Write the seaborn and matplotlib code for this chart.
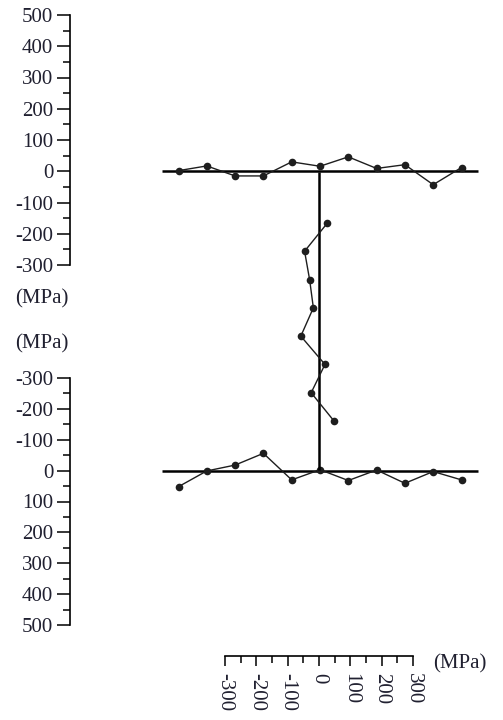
import numpy as np
import matplotlib
matplotlib.use("Agg")
import matplotlib.pyplot as plt
from matplotlib.ticker import MultipleLocator
import seaborn as sns

# ---- data ----
flange_pos = [-150, -120, -90, -60, -30, 0, 30, 60, 90, 120, 150]   # mm along flange
top_stress = [2, 17, -15, -15, 30, 16, 46, 9, 21, -43, 12]          # MPa
bot_stress = [52, 1, -18, -56, 30, -3, 32, -2, 41, 3, 30]           # MPa
web_pos = [54, 84, 114, 144, 174, 204, 234, 264]                    # mm from top flange
web_stress = [27, -46, -30, -18, -58, 19, -25, 48]                  # MPa
stress_ticks = [-300, -200, -100, 0, 100, 200, 300, 400, 500]
web_ticks = [-300, -200, -100, 0, 100, 200, 300]

FLANGE_HALF = 167   # mm
WEB_H = 316         # mm

# ---- style ----
sns.set_style("white")
plt.rcParams['font.family'] = ['Liberation Serif', 'DejaVu Serif']
plt.rcParams['axes.unicode_minus'] = False
TXT = '#202030'
FS = 15

W, H = 503, 720
fig = plt.figure(figsize=(W / 100, H / 100), dpi=100)

def rect(x0, y0, x1, y1):
    return [x0 / W, 1 - y1 / H, (x1 - x0) / W, (y1 - y0) / H]

PX_PER_MM = 28.3 / 30
CX = 320

ax_top = fig.add_axes(rect(70, 15, 480, 265))
ax_bot = fig.add_axes(rect(70, 378, 480, 625))
ax_web = fig.add_axes(rect(225, 172, 413, 656))

for ax in (ax_top, ax_bot, ax_web):
    ax.patch.set_visible(False)
    for s in ax.spines.values():
        s.set_visible(False)

line_kw = dict(marker='o', color='#1e1e1e', lw=1.0, markersize=5.5,
               markeredgewidth=0, estimator=None, sort=False, legend=False)

for ax, vals, lim in ((ax_top, top_stress, (-300, 500)), (ax_bot, bot_stress, (500, -300))):
    ax.set_xlim((70 - CX) / PX_PER_MM, (480 - CX) / PX_PER_MM)
    ax.set_ylim(*lim)
    ax.hlines(0, -FLANGE_HALF, FLANGE_HALF, color='black', lw=1.8, zorder=3)
    sns.lineplot(x=flange_pos, y=vals, ax=ax, zorder=4, **line_kw)
    ax.spines['left'].set_visible(True)
    ax.spines['left'].set_color('black')
    ax.spines['left'].set_linewidth(1.2)
    ax.set_yticks(stress_ticks)
    ax.yaxis.set_minor_locator(MultipleLocator(50))
    ax.set_xticks([])
    ax.tick_params(axis='y', which='major', left=True, length=9.5, width=1.1,
                   direction='out', pad=2.5, labelsize=FS, labelcolor=TXT, color='black')
    ax.tick_params(axis='y', which='minor', left=True, length=5, width=1.1,
                   direction='out', color='black')
    ax.set_xlabel('')
    ax.set_ylabel('')

# web
ax_web.set_xlim(-300, 300)
ax_web.set_ylim((656 - 172) / PX_PER_MM, 0)
ax_web.vlines(0, 0, WEB_H, color='black', lw=1.8, zorder=3)
sns.lineplot(x=web_stress, y=web_pos, ax=ax_web, orient='y', zorder=4, **line_kw)
ax_web.spines['bottom'].set_visible(True)
ax_web.spines['bottom'].set_color('black')
ax_web.spines['bottom'].set_linewidth(1.2)
ax_web.set_xticks(web_ticks)
ax_web.xaxis.set_minor_locator(MultipleLocator(50))
ax_web.set_yticks([])
ax_web.tick_params(axis='x', which='major', bottom=True, length=7.5, width=1.1,
                   direction='out', pad=5, labelsize=FS, labelcolor=TXT,
                   labelrotation=-90, color='black')
ax_web.tick_params(axis='x', which='minor', bottom=True, length=5, width=1.1,
                   direction='out', color='black')
ax_web.set_xlabel('')
ax_web.set_ylabel('')

fig.text(15 / W, 1 - 299 / H, '(MPa)', ha='left', va='center', fontsize=FS, color=TXT)
fig.text(15 / W, 1 - 344 / H, '(MPa)', ha='left', va='center', fontsize=FS, color=TXT)
fig.text(433 / W, 1 - 664 / H, '(MPa)', ha='left', va='center', fontsize=FS, color=TXT)

fig.savefig('out.png', dpi=100, facecolor='white')
